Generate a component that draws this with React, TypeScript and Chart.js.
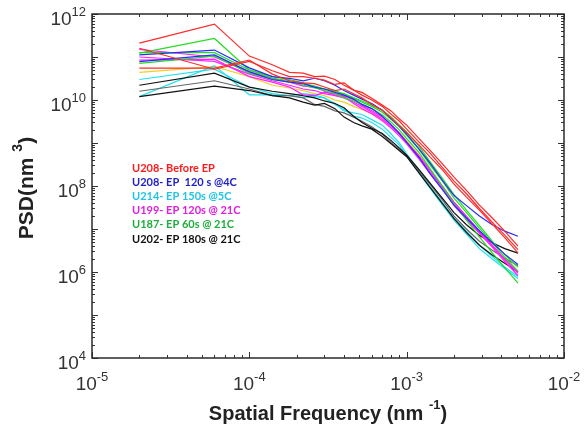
import React, { useEffect, useRef } from "react";
import { Chart, registerables } from "chart.js";

Chart.register(...registerables);

// Spatial frequency (nm^-1)
const freq = [2e-5, 6e-5, 1e-4, 1.4e-4, 1.8e-4, 2.2e-4, 2.6e-4, 3e-4, 3.5e-4, 4e-4, 4.6e-4, 5.2e-4, 6e-4, 7e-4, 8e-4, 9e-4, 1e-3, 1.2e-3, 1.4e-3, 1.7e-3, 2e-3, 2.4e-3, 2.9e-3, 3.5e-3, 4.2e-3, 5.1e-3];

// PSD (nm^3) — U208 Before EP (red)
const red1 = [2.1e11, 5.8e11, 1.05e11, 6.6e10, 4.4e10, 4.2e10, 3.5e10, 3.6e10, 3.0e10, 2.2e10, 1.7e10, 1.3e10, 1.0e10, 7.1e9, 4.6e9, 3.2e9, 2.1e9, 1.05e9, 6.0e8, 2.6e8, 1.3e8, 6.6e7, 3.0e7, 1.45e7, 7.2e6, 3.3e6];
const red2 = [1.6e11, 5.2e10, 7.9e10, 4.8e10, 3.5e10, 3.5e10, 3.2e10, 2.9e10, 2.3e10, 2.5e10, 1.7e10, 1.5e10, 1.1e10, 7.6e9, 5.5e9, 3.6e9, 2.6e9, 1.26e9, 6.9e8, 3.2e8, 1.6e8, 7.9e7, 3.6e7, 1.8e7, 8.9e6, 4.0e6];
const red3 = [5.5e10, 5.5e10, 8.5e10, 4.0e10, 2.8e10, 2.5e10, 2.4e10, 2.0e10, 1.66e10, 1.8e10, 1.4e10, 1.12e10, 7.9e9, 5.8e9, 3.8e9, 2.5e9, 1.74e9, 8.9e8, 4.8e8, 2.3e8, 1.1e8, 5.5e7, 2.75e7, 1.3e7, 6.3e6, 2.8e6];
// U208 EP 120 s @4C (blue)
const blue1 = [1.12e11, 1.45e11, 5.6e10, 3.5e10, 3.2e10, 2.8e10, 3.2e10, 2.8e10, 2.2e10, 1.66e10, 1.3e10, 1.05e10, 8.3e9, 5.8e9, 3.6e9, 2.4e9, 1.6e9, 7.2e8, 3.5e8, 1.3e8, 6.0e7, 3.5e7, 2.0e7, 1.26e7, 8.9e6, 6.8e6];
const blue2 = [7.8e10, 1.12e11, 4.5e10, 3.0e10, 2.6e10, 2.4e10, 2.0e10, 1.8e10, 1.5e10, 1.3e10, 1.05e10, 7.9e9, 6.3e9, 4.2e9, 2.6e9, 1.66e9, 1.05e9, 4.6e8, 2.0e8, 7.9e7, 3.6e7, 1.8e7, 9.1e6, 4.8e6, 2.6e6, 1.5e6];
// U214 EP 150s @5C (cyan)
const cyan1 = [1.2e10, 6.3e10, 1.32e10, 1.32e10, 1.26e10, 1.15e10, 1.2e10, 1.12e10, 8.3e9, 5.6e9, 5.0e9, 4.6e9, 3.5e9, 2.6e9, 1.6e9, 1.0e9, 5.6e8, 2.3e8, 1.0e8, 4.0e7, 1.8e7, 8.9e6, 4.2e6, 2.3e6, 1.3e6, 7.9e5];
const cyan2 = [3.0e10, 5.2e10, 2.0e10, 1.41e10, 1.26e10, 1.41e10, 1.32e10, 1.12e10, 7.9e9, 6.0e9, 4.2e9, 3.8e9, 3.0e9, 2.1e9, 1.32e9, 8.9e8, 5.0e8, 2.0e8, 9.1e7, 3.5e7, 1.6e7, 7.6e6, 3.5e6, 2.0e6, 1.2e6, 7.1e5];
// U199 EP 120s @ 21C (magenta)
const mag1 = [1.5e11, 1.0e11, 4.6e10, 3.2e10, 2.6e10, 2.1e10, 2.0e10, 1.6e10, 1.3e10, 1.26e10, 1.0e10, 7.6e9, 5.6e9, 4.0e9, 2.6e9, 1.7e9, 1.05e9, 5.0e8, 2.4e8, 9.5e7, 4.2e7, 2.0e7, 8.9e6, 4.2e6, 2.0e6, 1.0e6];
const mag2 = [8.5e10, 8.9e10, 3.5e10, 2.6e10, 2.0e10, 1.32e10, 1.26e10, 1.5e10, 1.41e10, 1.2e10, 8.3e9, 6.3e9, 4.8e9, 3.3e9, 2.2e9, 1.45e9, 9.5e8, 4.2e8, 2.0e8, 8.3e7, 3.5e7, 1.66e7, 7.9e6, 3.8e6, 1.74e6, 8.3e5];
const mag3 = [1.0e11, 7.9e10, 4.0e10, 2.8e10, 2.2e10, 1.8e10, 1.66e10, 1.41e10, 1.26e10, 1.12e10, 8.9e9, 7.1e9, 5.2e9, 3.6e9, 2.4e9, 1.6e9, 1.0e9, 4.6e8, 2.2e8, 8.9e7, 4.0e7, 1.8e7, 8.3e6, 4.0e6, 1.9e6, 9.5e5];
// U187 EP 60s @ 21C (green)
const green1 = [1.23e11, 2.7e11, 5.0e10, 3.5e10, 3.0e10, 2.5e10, 2.0e10, 1.8e10, 1.6e10, 1.41e10, 1.12e10, 8.9e9, 7.1e9, 5.2e9, 3.5e9, 2.4e9, 1.5e9, 7.1e8, 3.2e8, 1.26e8, 5.2e7, 2.4e7, 1.05e7, 4.8e6, 2.2e6, 1.05e6];
const green2 = [1.26e11, 1.26e11, 5.0e10, 3.2e10, 2.8e10, 2.2e10, 1.9e10, 1.66e10, 1.41e10, 1.12e10, 9.5e9, 7.9e9, 6.3e9, 4.5e9, 3.0e9, 2.0e9, 1.26e9, 6.0e8, 2.6e8, 9.5e7, 3.8e7, 1.6e7, 6.6e6, 2.8e6, 1.26e6, 5.5e5];
const green3 = [7.1e10, 1.05e11, 4.2e10, 3.0e10, 2.6e10, 2.4e10, 2.1e10, 1.8e10, 1.66e10, 1.32e10, 1.12e10, 9.5e9, 7.6e9, 5.8e9, 4.0e9, 2.6e9, 1.8e9, 8.3e8, 3.8e8, 1.45e8, 6.3e7, 2.75e7, 1.2e7, 5.2e6, 2.5e6, 1.3e6];
// U202 EP 180s @ 21C (black / grey)
const black1 = [2.2e10, 4.2e10, 2.0e10, 1.6e10, 1.41e10, 1.26e10, 1.12e10, 9.5e9, 8.3e9, 6.6e9, 4.2e9, 3.0e9, 2.2e9, 1.66e9, 1.12e9, 7.6e8, 5.2e8, 2.4e8, 1.2e8, 5.0e7, 2.4e7, 1.26e7, 7.1e6, 4.8e6, 3.5e6, 2.75e6];
const black2 = [1.2e10, 2.1e10, 1.66e10, 1.26e10, 1.12e10, 8.9e9, 7.6e9, 8.3e9, 6.3e9, 4.0e9, 3.0e9, 2.5e9, 2.1e9, 1.41e9, 9.5e8, 6.6e8, 4.8e8, 2.0e8, 9.5e7, 3.8e7, 1.74e7, 8.3e6, 4.2e6, 2.5e6, 1.6e6, 1.0e6];
const grey1 = [1.6e10, 2.8e10, 1.8e10, 1.26e10, 1.26e10, 1.12e10, 7.9e9, 7.1e9, 5.6e9, 5.0e9, 4.0e9, 3.2e9, 2.4e9, 1.6e9, 1.0e9, 7.1e8, 5.2e8, 2.2e8, 1.12e8, 4.6e7, 2.0e7, 1.0e7, 5.2e6, 3.2e6, 2.1e6, 1.4e6];
// extra trace (yellow)
const yellow1 = [4.4e10, 6.0e10, 3.5e10, 2.2e10, 1.9e10, 1.66e10, 1.41e10, 1.26e10, 1.0e10, 8.9e9, 7.1e9, 6.0e9, 4.8e9, 3.5e9, 2.5e9, 1.74e9, 1.12e9, 5.2e8, 2.5e8, 9.5e7, 4.2e7, 1.9e7, 8.9e6, 4.2e6, 2.0e6, 1.0e6];

const legendLabels = ["U208- Before EP", "U208- EP  120 s @4C", "U214- EP 150s @5C", "U199- EP 120s @ 21C", "U187- EP 60s @ 21C", "U202- EP 180s @ 21C"];
const legendColors = ["#ff1a1a", "#1f1fc8", "#22c4e6", "#e01ee0", "#1fae3c", "#111111"];

const xTickExps = [-5, -4, -3, -2];
const yTickExps = [4, 6, 8, 10, 12];
const xRange = [1e-5, 1e-2];
const yRange = [1e4, 1e12];

const traces = [
  { name: "red1", data: red1, color: "#ff2a2a" },
  { name: "red2", data: red2, color: "#ff2a2a" },
  { name: "red3", data: red3, color: "#ff2a2a" },
  { name: "blue1", data: blue1, color: "#2a2aff" },
  { name: "blue2", data: blue2, color: "#2a2aff" },
  { name: "green1", data: green1, color: "#22dd22" },
  { name: "green2", data: green2, color: "#22dd22" },
  { name: "green3", data: green3, color: "#22dd22" },
  { name: "mag1", data: mag1, color: "#ff22ff" },
  { name: "mag2", data: mag2, color: "#ff22ff" },
  { name: "mag3", data: mag3, color: "#ff22ff" },
  { name: "black1", data: black1, color: "#111111" },
  { name: "black2", data: black2, color: "#111111" },
  { name: "grey1", data: grey1, color: "#666666" },
  { name: "cyan1", data: cyan1, color: "#22e0f0" },
  { name: "cyan2", data: cyan2, color: "#22e0f0" },
  { name: "yellow1", data: yellow1, color: "#f0d020" },
];

const TICK_FONT = '"Liberation Sans", Arial, sans-serif';

function drawPower(ctx: CanvasRenderingContext2D, exp: string, x: number, y: number, align: "right" | "center") {
  ctx.font = `19px ${TICK_FONT}`;
  const bw = ctx.measureText("10").width;
  ctx.font = `13px ${TICK_FONT}`;
  const ew = ctx.measureText(exp).width;
  const total = bw + ew;
  const start = align === "right" ? x - total : x - total / 2;
  ctx.textAlign = "left";
  ctx.textBaseline = "middle";
  ctx.font = `19px ${TICK_FONT}`;
  ctx.fillText("10", start, y);
  ctx.font = `13px ${TICK_FONT}`;
  ctx.fillText(exp, start + bw, y - 8);
}

const axesPlugin = {
  id: "matlabAxes",
  afterDraw(chart: any) {
    const { ctx, chartArea: a, scales } = chart;
    const xs = scales.x;
    const ys = scales.y;
    ctx.save();
    ctx.strokeStyle = "#333";
    ctx.lineWidth = 1;
    const seg = (x1: number, y1: number, x2: number, y2: number) => {
      ctx.beginPath();
      ctx.moveTo(x1, y1);
      ctx.lineTo(x2, y2);
      ctx.stroke();
    };
    for (let e = xTickExps[0]; e <= xTickExps[xTickExps.length - 1]; e++) {
      for (let m = 1; m <= 9; m++) {
        if (e === xTickExps[xTickExps.length - 1] && m > 1) break;
        const px = Math.round(xs.getPixelForValue(m * Math.pow(10, e))) + 0.5;
        const len = m === 1 ? 6 : 3;
        seg(px, a.bottom, px, a.bottom - len);
        seg(px, a.top, px, a.top + len);
      }
    }
    for (let e = yTickExps[0]; e <= yTickExps[yTickExps.length - 1]; e++) {
      for (let m = 1; m <= 9; m++) {
        if (e === yTickExps[yTickExps.length - 1] && m > 1) break;
        const py = Math.round(ys.getPixelForValue(m * Math.pow(10, e))) + 0.5;
        const len = m === 1 ? 6 : 3;
        seg(a.left, py, a.left + len, py);
        seg(a.right, py, a.right - len, py);
      }
    }
    ctx.lineWidth = 1.5;
    ctx.strokeStyle = "#2a2a2a";
    ctx.strokeRect(Math.round(a.left), Math.round(a.top), Math.round(a.right - a.left), Math.round(a.bottom - a.top));

    ctx.fillStyle = "#333";
    yTickExps.forEach((e) => {
      const py = ys.getPixelForValue(Math.pow(10, e));
      drawPower(ctx, String(e), a.left - 6, py + 6, "right");
    });
    xTickExps.forEach((e) => {
      const px = xs.getPixelForValue(Math.pow(10, e));
      drawPower(ctx, String(e), px, a.bottom + 27, "center");
    });

    ctx.fillStyle = "#222";
    const tf = (s: number) => `bold ${s}px ${TICK_FONT}`;
    {
      const main = "Spatial Frequency (nm ";
      const sup = "-1";
      const end = ")";
      ctx.font = tf(20);
      const w1 = ctx.measureText(main).width;
      const w3 = ctx.measureText(end).width;
      ctx.font = tf(13);
      const w2 = ctx.measureText(sup).width;
      const cx = (a.left + a.right) / 2;
      const x = cx - (w1 + w2 + w3) / 2;
      const y = 414;
      ctx.textAlign = "left";
      ctx.textBaseline = "middle";
      ctx.font = tf(20);
      ctx.fillText(main, x, y);
      ctx.font = tf(13);
      ctx.fillText(sup, x + w1, y - 9);
      ctx.font = tf(20);
      ctx.fillText(end, x + w1 + w2, y);
    }
    {
      ctx.save();
      ctx.translate(27, (a.top + a.bottom) / 2 + 2);
      ctx.rotate(-Math.PI / 2);
      const main = "PSD(nm ";
      const sup = "3";
      const end = ")";
      ctx.font = tf(21);
      const w1 = ctx.measureText(main).width;
      const w3 = ctx.measureText(end).width;
      ctx.font = tf(14);
      const w2 = ctx.measureText(sup).width;
      const x = -(w1 + w2 + w3) / 2;
      ctx.textAlign = "left";
      ctx.textBaseline = "middle";
      ctx.font = tf(21);
      ctx.fillText(main, x, 0);
      ctx.font = tf(14);
      ctx.fillText(sup, x + w1, -9);
      ctx.font = tf(21);
      ctx.fillText(end, x + w1 + w2, 0);
      ctx.restore();
    }

    ctx.font = `bold 11px Lato, "Open Sans", sans-serif`;
    ctx.textAlign = "left";
    ctx.textBaseline = "middle";
    legendLabels.forEach((lab, i) => {
      ctx.fillStyle = legendColors[i];
      ctx.fillText(lab, 132, 168 + i * 14.2);
    });
    ctx.restore();
  },
};

export default function App() {
  const ref = useRef<HTMLCanvasElement | null>(null);
  useEffect(() => {
    if (!ref.current) return;
    const chart = new Chart(ref.current, {
      type: "line",
      data: {
        datasets: traces.map((t) => ({
          label: t.name,
          data: freq.map((f, i) => ({ x: f, y: t.data[i] })),
          borderColor: t.color,
          backgroundColor: t.color,
          borderWidth: 1.2,
          pointRadius: 0,
          tension: 0,
          fill: false,
        })),
      },
      options: {
        responsive: false,
        animation: false,
        layout: { padding: { left: 92, right: 22, top: 14, bottom: 73 } },
        plugins: { legend: { display: false }, tooltip: { enabled: false } },
        scales: {
          x: { type: "logarithmic", min: xRange[0], max: xRange[1], display: false },
          y: { type: "logarithmic", min: yRange[0], max: yRange[1], display: false },
        },
      },
      plugins: [axesPlugin],
    });
    return () => chart.destroy();
  }, []);
  return (
    <div style={{ position: "fixed", left: 0, top: 0, width: 586, height: 431, background: "#fff" }}>
      <canvas ref={ref} width={586} height={431} style={{ width: 586, height: 431 }} />
    </div>
  );
}
